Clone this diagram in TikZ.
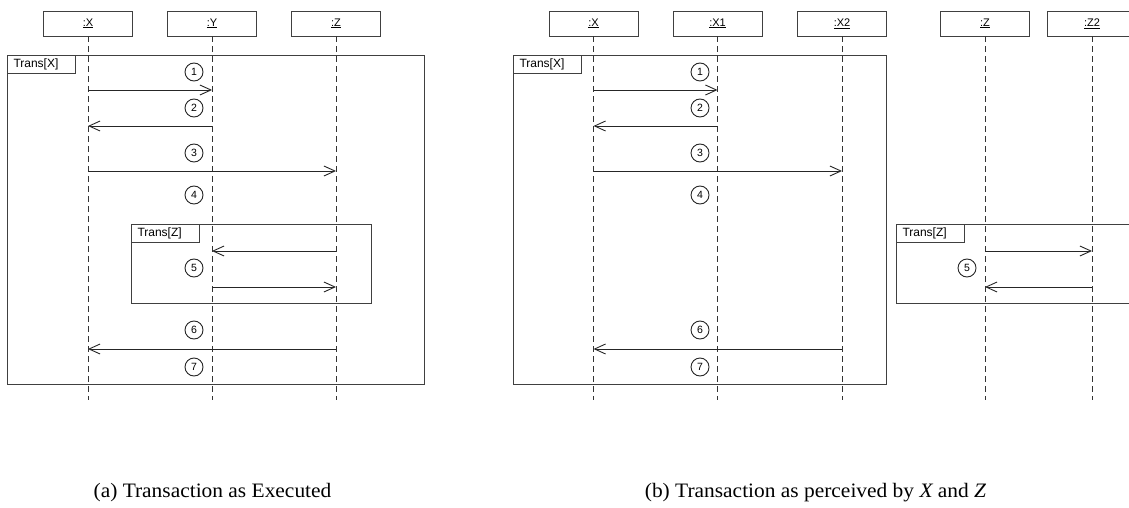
\documentclass[tikz,border=0pt]{standalone}
\usepackage{fontspec}
\usepackage{graphicx}
\setmainfont{Liberation Serif}
\newfontfamily\umlfont{Liberation Sans}
\usetikzlibrary{arrows.meta}
\begin{document}
\begin{tikzpicture}[x=1pt,y=-1pt,
  obj/.style={draw=black!75, line width=0.9pt, minimum width=89pt, minimum height=25pt, inner sep=0pt, font=\umlfont\fontsize{11}{13}\selectfont},
  life/.style={draw=black!80, line width=0.9pt, dash pattern=on 6pt off 4pt},
  frame/.style={draw=black!75, line width=1pt, anchor=north west, inner sep=0pt},
  tab/.style={draw=black!75, line width=1pt, anchor=north west, text width=56pt, inner xsep=6pt, inner ysep=0pt, minimum height=18pt, align=left, font=\umlfont\fontsize{12}{14}\selectfont},
  msg/.style={draw=black!85, line width=0.9pt, -{Straight Barb[length=11pt,width=10pt,line width=0.9pt]}},
  num/.style={circle, draw=black!85, line width=0.9pt, minimum size=18pt, inner sep=0pt, font=\umlfont\fontsize{10.5}{12}\selectfont},
  captext/.style={anchor=base, font=\fontsize{20.5}{24}\selectfont}
]
\useasboundingbox (0,0) rectangle (1129,508);
\clip (0,0) rectangle (1129,508);

% ---------- (a) ----------
\node[frame, minimum width=417pt, minimum height=329pt] (fa) at (7,55) {};
\node[tab] (ta) at (7,55) {Trans[X]};
\node[frame, minimum width=240pt, minimum height=79pt] (fza) at (131,224) {};
\node[tab] (tza) at (131,224) {Trans[Z]};

\node[obj] (X) at (88,23.5) {\underline{:X}};
\node[obj] (Y) at (212,23.5) {\underline{:Y}};
\node[obj] (Z) at (336,23.5) {\underline{:Z}};
\coordinate (Xe) at (88,400);
\coordinate (Ye) at (212,400);
\coordinate (Ze) at (336,400);
\draw[life] (X) -- (Xe);
\draw[life] (Y) -- (Ye);
\draw[life] (Z) -- (Ze);

\node[num] (a1) at (194,72) {1};
\node[num] (a2) at (194,108) {2};
\node[num] (a3) at (194,153) {3};
\node[num] (a4) at (194,195) {4};
\node[num] (a5) at (194,268) {5};
\node[num] (a6) at (194,330) {6};
\node[num] (a7) at (194,367) {7};

\draw[msg] (X |- 0,90) -- (Y |- 0,90);
\draw[msg] (Y |- 0,126) -- (X |- 0,126);
\draw[msg] (X |- 0,171) -- (Z |- 0,171);
\draw[msg] (Z |- 0,251) -- (Y |- 0,251);
\draw[msg] (Y |- 0,287) -- (Z |- 0,287);
\draw[msg] (Z |- 0,349) -- (X |- 0,349);

\node[captext] (capa) at (212.5,497) {\scalebox{1.045}[1]{(a) Transaction as Executed}};

% ---------- (b) ----------
\node[frame, minimum width=373pt, minimum height=329pt] (fb) at (513,55) {};
\node[tab] (tb) at (513,55) {Trans[X]};
\node[frame, minimum width=260pt, minimum height=79pt] (fzb) at (896,224) {};
\node[tab] (tzb) at (896,224) {Trans[Z]};

\node[obj] (BX) at (593.5,23.5) {\underline{:X}};
\node[obj] (BX1) at (717.5,23.5) {\underline{:X1}};
\node[obj] (BX2) at (842,23.5) {\underline{:X2}};
\node[obj] (BZ) at (985,23.5) {\underline{:Z}};
\node[obj] (BZ2) at (1092,23.5) {\underline{:Z2}};
\coordinate (BXe) at (593.5,400);
\coordinate (BX1e) at (717.5,400);
\coordinate (BX2e) at (842,400);
\coordinate (BZe) at (985,400);
\coordinate (BZ2e) at (1092,400);
\draw[life] (BX) -- (BXe);
\draw[life] (BX1) -- (BX1e);
\draw[life] (BX2) -- (BX2e);
\draw[life] (BZ) -- (BZe);
\draw[life] (BZ2) -- (BZ2e);

\node[num] (b1) at (700,72) {1};
\node[num] (b2) at (700,108) {2};
\node[num] (b3) at (700,153) {3};
\node[num] (b4) at (700,195) {4};
\node[num] (b5) at (967,268) {5};
\node[num] (b6) at (700,330) {6};
\node[num] (b7) at (700,367) {7};

\draw[msg] (BX |- 0,90) -- (BX1 |- 0,90);
\draw[msg] (BX1 |- 0,126) -- (BX |- 0,126);
\draw[msg] (BX |- 0,171) -- (BX2 |- 0,171);
\draw[msg] (BZ |- 0,251) -- (BZ2 |- 0,251);
\draw[msg] (BZ2 |- 0,287) -- (BZ |- 0,287);
\draw[msg] (BX2 |- 0,349) -- (BX |- 0,349);

\node[captext] (capb) at (815.5,497) {\scalebox{1.045}[1]{(b) Transaction as perceived by {\itshape X} and {\itshape Z}}};
\end{tikzpicture}
\end{document}
